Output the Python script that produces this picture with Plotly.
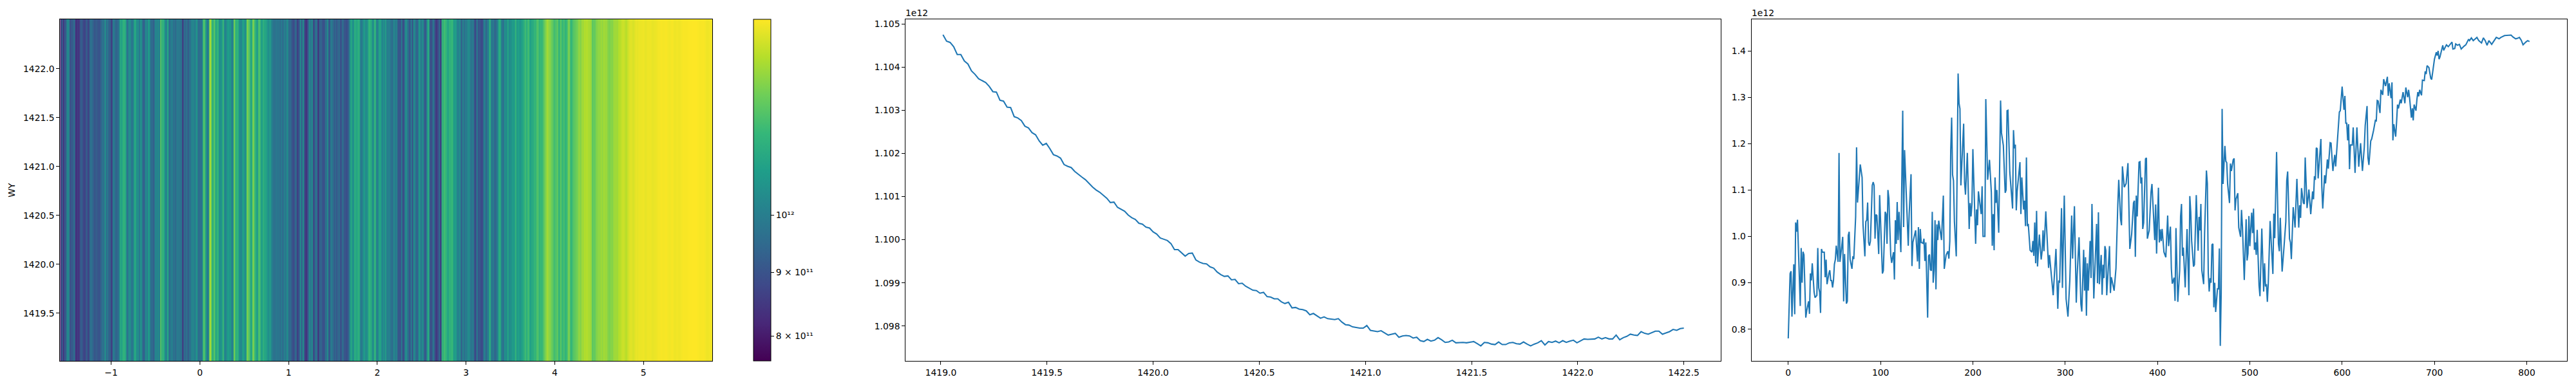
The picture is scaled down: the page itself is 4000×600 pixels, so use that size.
import numpy as np
import plotly.graph_objects as go

# Right panel: spectrum sampled at read turning points (sample index, value in units of 1e12)
sample_index = [0,2,3,4,6,7,8,9,10,12,13,14,15,16,17,19,20,22,23,24,25,26,27,28,29,31,32,33,34,35,36,37,39,40,41,42,44,45,46,47,48,49,50,51,52,54,55,56,58,59,60,61,63,64,65,66,67,69,70,71,73,74,75,78,80,81,83,84,85,86,87,88,89,91,92,93,94,95,96,98,99,101,102,103,104,105,106,107,108,109,111,112,114,115,116,117,118,119,120,122,124,125,126,128,130,131,133,134,135,138,140,141,142,143,144,146,147,148,149,151,152,153,154,155,156,157,158,159,160,161,162,163,166,168,169,171,173,174,175,176,177,178,179,180,182,184,185,186,187,190,191,192,194,196,197,198,199,200,203,204,205,206,209,210,211,213,214,216,218,220,221,222,223,224,225,226,228,230,231,233,235,236,237,238,240,243,244,245,246,247,248,251,252,253,255,256,257,258,259,260,262,264,265,266,267,268,269,270,272,274,275,276,277,279,282,283,285,287,290,292,293,294,296,297,299,301,303,305,307,308,310,312,313,315,317,318,320,321,322,323,324,325,327,328,329,331,334,335,336,337,339,340,341,342,343,344,345,348,349,350,353,355,357,358,360,361,362,364,366,368,370,372,374,375,376,377,378,380,381,382,383,384,385,387,388,389,391,393,394,396,397,398,399,401,402,403,404,405,407,409,411,412,414,415,416,418,419,420,422,424,425,426,427,428,430,432,434,435,436,437,439,440,442,444,445,446,447,448,450,451,453,454,455,456,457,458,459,460,461,462,463,465,466,467,468,469,470,471,473,474,475,476,478,479,480,482,483,484,485,487,488,490,491,492,494,496,497,498,499,500,502,503,504,505,506,507,508,510,511,513,515,516,517,518,519,520,522,525,526,527,529,531,532,533,535,537,539,540,541,543,544,545,547,549,551,553,554,555,556,558,559,560,562,564,566,568,569,570,571,572,573,574,576,577,578,579,581,582,584,585,587,588,590,592,593,595,597,598,600,602,603,604,605,606,607,608,609,611,612,614,616,618,620,622,624,625,627,628,629,631,632,634,636,637,638,639,641,642,644,645,647,649,650,651,653,654,655,656,658,659,660,661,663,664,666,668,669,671,672,673,674,675,676,677,678,680,681,682,683,684,686,687,689,690,691,692,694,696,697,699,700,702,703,704,705,706,708,709,710,713,715,717,719,720,722,723,725,727,729,732,734,736,737,738,740,742,744,746,748,751,753,755,757,759,762,765,767,770,772,776,780,783,785,788,790,792,794,796,799,801,803]
sample_value = [0.78,0.92,0.925,0.827,0.94,0.832,1.03,1.01,1.036,0.9,0.85,0.975,0.9,0.967,0.96,0.825,0.84,0.86,0.833,0.92,0.905,0.942,0.91,0.88,0.868,0.873,0.975,0.889,0.88,0.835,0.973,0.966,0.966,0.912,0.95,0.897,0.92,0.927,0.905,0.905,0.89,0.905,0.94,0.95,0.98,0.945,1.18,0.945,0.98,0.999,0.86,0.962,0.855,0.86,1.002,1.01,0.95,0.93,0.957,0.951,1.042,1.192,1.073,1.155,1.127,1.025,0.957,1.032,1.035,1.073,0.987,0.98,0.99,1.11,1.117,1.11,0.995,1.047,1.045,0.962,1.089,0.98,0.92,0.926,0.98,1.053,1.048,0.984,1.1,1.082,0.96,0.943,0.966,0.907,1.035,0.984,1.074,0.992,1.053,0.966,1.271,1.02,1.186,1.095,0.98,1.048,1.134,0.936,0.987,1.013,0.946,1.02,0.93,1.016,0.987,0.985,0.995,0.947,0.987,0.825,0.958,0.961,0.928,0.926,1.053,0.9,0.928,1.035,0.886,1.026,0.992,1.034,0.992,1.088,0.93,0.96,0.968,0.952,0.99,1.186,1.256,1.133,1.12,1.032,0.957,1.351,1.287,1.275,1.11,1.243,1.117,1.09,1.18,1.016,1.072,1.043,1.07,1.188,0.984,1.058,1.024,1.097,1.048,1.108,1.0,1.0,1.296,1.122,1.165,1.095,0.98,1.048,0.97,1.127,1.072,1.1,1.008,1.293,1.223,1.196,1.094,1.1,1.271,1.272,1.138,1.06,1.229,1.19,1.198,1.056,1.098,1.16,1.048,1.127,1.058,1.077,1.022,1.17,1.022,1.027,0.97,0.966,0.99,0.958,1.03,0.942,1.055,0.935,1.004,0.95,0.968,1.013,0.968,1.054,0.932,0.96,0.912,0.873,0.973,0.844,0.905,0.9,1.061,0.889,1.088,0.865,0.827,0.905,1.045,0.952,1.065,0.857,0.918,0.998,0.854,0.838,0.971,0.883,0.955,0.829,0.942,0.883,0.99,0.91,1.07,0.866,1.027,0.899,1.052,0.897,0.96,0.874,0.939,0.91,0.979,0.97,0.873,0.979,0.878,0.912,0.883,0.931,1.069,1.122,1.037,1.024,1.151,1.106,1.114,1.158,0.973,1.005,1.072,1.077,0.956,1.088,1.043,1.16,1.161,1.114,1.127,1.016,1.029,1.167,1.169,0.995,1.013,1.096,1.113,1.029,0.992,1.069,0.963,1.105,0.987,1.015,0.99,1.016,0.966,0.955,1.045,0.979,1.021,0.931,0.898,0.911,0.861,1.018,0.859,0.926,1.043,1.07,0.958,0.976,0.89,1.016,0.873,1.087,1.053,0.99,0.935,0.939,1.089,0.969,1.042,1.013,1.07,0.927,0.897,1.005,1.142,1.114,0.921,0.881,0.91,0.9,0.982,0.984,0.847,0.9,0.837,0.888,0.886,0.974,0.764,0.878,1.275,1.113,1.195,1.162,1.159,1.112,1.072,1.157,1.141,1.165,1.168,1.056,1.08,1.093,1.019,0.999,1.057,1.021,0.906,1.037,0.948,0.963,1.044,0.979,1.051,1.007,1.06,0.971,0.987,0.96,1.014,0.894,0.871,1.017,0.881,0.942,0.892,0.897,0.859,0.899,1.033,0.919,1.049,0.996,1.182,0.984,0.968,1.04,0.924,0.976,1.032,1.12,1.14,0.995,0.987,0.951,1.063,1.019,1.124,1.019,1.067,1.04,1.104,1.072,1.07,1.17,1.061,1.101,1.048,1.097,1.08,1.13,1.122,1.191,1.189,1.125,1.175,1.21,1.106,1.06,1.132,1.114,1.166,1.146,1.202,1.201,1.141,1.176,1.151,1.213,1.268,1.271,1.323,1.273,1.303,1.244,1.244,1.207,1.242,1.145,1.197,1.197,1.235,1.137,1.235,1.15,1.201,1.141,1.192,1.239,1.281,1.17,1.154,1.206,1.21,1.228,1.25,1.249,1.293,1.292,1.266,1.316,1.305,1.339,1.324,1.344,1.303,1.33,1.298,1.332,1.207,1.242,1.215,1.247,1.284,1.276,1.295,1.287,1.311,1.287,1.321,1.3,1.316,1.3,1.282,1.256,1.276,1.25,1.284,1.271,1.295,1.311,1.302,1.316,1.304,1.337,1.336,1.356,1.35,1.368,1.364,1.341,1.338,1.367,1.382,1.397,1.39,1.4,1.382,1.387,1.404,1.412,1.401,1.413,1.409,1.414,1.419,1.404,1.405,1.415,1.412,1.414,1.404,1.41,1.413,1.421,1.425,1.422,1.428,1.422,1.426,1.429,1.422,1.417,1.428,1.422,1.412,1.422,1.414,1.424,1.429,1.426,1.429,1.433,1.434,1.434,1.43,1.426,1.427,1.429,1.423,1.413,1.419,1.422,1.42,1.422]

# Middle panel: cross-section values (units of 1e12), evenly spaced along WY
cut_start, cut_stop = 1419.01, 1422.5
cut_value = [1.10475,1.10460,1.10457,1.10447,1.10429,1.10429,1.10414,1.10407,1.10391,1.10383,1.10373,1.10369,1.10364,1.10355,1.10343,1.10342,1.10323,1.10321,1.10307,1.10306,1.10285,1.10282,1.10276,1.10263,1.10259,1.10248,1.10243,1.10229,1.10219,1.10223,1.10211,1.10197,1.10194,1.10189,1.10174,1.10170,1.10167,1.10158,1.10151,1.10145,1.10139,1.10130,1.10122,1.10115,1.10110,1.10103,1.10096,1.10086,1.10087,1.10075,1.10070,1.10066,1.10057,1.10051,1.10047,1.10038,1.10036,1.10029,1.10027,1.10018,1.10013,1.10004,1.10001,1.09998,1.09991,1.09977,1.09977,1.09970,1.09962,1.09968,1.09969,1.09953,1.09948,1.09945,1.09944,1.09937,1.09934,1.09925,1.09919,1.09915,1.09916,1.09907,1.09908,1.09898,1.09899,1.09892,1.09888,1.09883,1.09882,1.09876,1.09878,1.09868,1.09867,1.09863,1.09863,1.09856,1.09852,1.09855,1.09842,1.09843,1.09839,1.09838,1.09835,1.09826,1.09829,1.09824,1.09818,1.09821,1.09817,1.09816,1.09815,1.09817,1.09809,1.09803,1.09802,1.09798,1.09796,1.09795,1.09795,1.09801,1.09790,1.09789,1.09787,1.09789,1.09784,1.09779,1.09781,1.09783,1.09774,1.09777,1.09778,1.09777,1.09772,1.09774,1.09766,1.09764,1.09769,1.09765,1.09767,1.09773,1.09768,1.09762,1.09763,1.09767,1.09761,1.09762,1.09762,1.09761,1.09763,1.09764,1.09759,1.09754,1.09762,1.09761,1.09758,1.09757,1.09763,1.09757,1.09757,1.09761,1.09762,1.09759,1.09758,1.09763,1.09758,1.09754,1.09758,1.09761,1.09766,1.09756,1.09764,1.09762,1.09765,1.09761,1.09766,1.09762,1.09765,1.09767,1.09761,1.09765,1.09770,1.09769,1.09769,1.09770,1.09774,1.09770,1.09773,1.09770,1.09770,1.09779,1.09768,1.09773,1.09776,1.09781,1.09779,1.09778,1.09787,1.09783,1.09781,1.09785,1.09788,1.09788,1.09781,1.09784,1.09787,1.09792,1.09790,1.09794,1.09795]

# Left panel axis values
heat_x_start, heat_x_stop = -1.575, 5.775
heat_y_edges = [1419.0, 1422.52]
cbar_ticks = [8e11, 9e11, 1e12]
cbar_text = ["8 × 10¹¹", "9 × 10¹¹", "10¹²"]

spectrum = np.array(sample_value) * 1e12
cut = np.array(cut_value) * 1e12
cut_x = np.linspace(cut_start, cut_stop, len(cut_value))
heat_x = heat_x_start + np.array(sample_index) * (heat_x_stop - heat_x_start) / 803
logz = np.log10(spectrum)

W, H = 4000, 600
TOP, BOTTOM = 30.0, 561.4
ydom = [1 - BOTTOM / H, 1 - TOP / H]
FONT = dict(family="DejaVu Sans", size=13.9, color="black")
BLUE = "#1f77b4"

axis_style = dict(showline=True, linecolor="black", linewidth=1, mirror=True, ticks="outside",
                  ticklen=4.9, tickwidth=1, tickcolor="black", showgrid=False, zeroline=False,
                  tickfont=FONT)

fig = go.Figure()
fig.add_trace(go.Heatmap(
    x=heat_x, y=heat_y_edges, z=[logz, logz], colorscale="Viridis", zsmooth="best",
    zmin=float(logz.min()), zmax=float(logz.max()), xaxis="x", yaxis="y",
    colorbar=dict(x=1169.6 / W, xanchor="left", xref="paper", xpad=0, ypad=0,
                  y=ydom[0], yanchor="bottom", yref="paper", len=ydom[1] - ydom[0], lenmode="fraction",
                  thickness=26.8, thicknessmode="pixels", outlinecolor="black", outlinewidth=1,
                  tickmode="array", tickvals=list(np.log10(cbar_ticks)), ticktext=cbar_text,
                  ticks="outside", ticklen=4.9, tickwidth=1, tickcolor="black", tickfont=FONT),
))
fig.add_trace(go.Scatter(x=cut_x, y=cut, mode="lines", line=dict(color=BLUE, width=2.08),
                         xaxis="x2", yaxis="y2", showlegend=False))
fig.add_trace(go.Scatter(x=sample_index, y=spectrum, mode="lines", line=dict(color=BLUE, width=2.08),
                         xaxis="x3", yaxis="y3", showlegend=False))

def dom(a, b):
    return [a / W, b / W]

cut_ticks = [1.098, 1.099, 1.100, 1.101, 1.102, 1.103, 1.104, 1.105]
fig.update_layout(
    width=W, height=H, autosize=False, margin=dict(l=0, r=0, t=0, b=0),
    paper_bgcolor="white", plot_bgcolor="white", font=FONT, showlegend=False,
    xaxis=dict(domain=dom(93.3, 1106), range=[heat_x_start, heat_x_stop], anchor="y",
               tickmode="array", tickvals=[-1, 0, 1, 2, 3, 4, 5], **axis_style),
    yaxis=dict(domain=ydom, range=[1419.01, 1422.505], anchor="x",
               tickmode="array", tickvals=[1419.5, 1420, 1420.5, 1421, 1421.5, 1422], tickformat=".1f",
               title=dict(text="WY", font=FONT, standoff=9), **axis_style),
    xaxis2=dict(domain=dom(1406.25, 2672.3), range=[1418.834, 1422.675], anchor="y2",
                tickmode="array", tickvals=[1419, 1419.5, 1420, 1420.5, 1421, 1421.5, 1422, 1422.5],
                tickformat=".1f", **axis_style),
    yaxis2=dict(domain=ydom, range=[1.097185e12, 1.105106e12], anchor="x2",
                tickmode="array", tickvals=[t * 1e12 for t in cut_ticks],
                ticktext=[f"{t:.3f}" for t in cut_ticks], **axis_style),
    xaxis3=dict(domain=dom(2719.6, 3985.6), range=[-39.9, 843.3], anchor="y3",
                tickmode="array", tickvals=list(range(0, 801, 100)), **axis_style),
    yaxis3=dict(domain=ydom, range=[0.731e12, 1.468e12], anchor="x3",
                tickmode="array", tickvals=[t * 1e11 for t in range(8, 15)],
                ticktext=["0.8", "0.9", "1.0", "1.1", "1.2", "1.3", "1.4"], **axis_style),
    annotations=[
        dict(text="1e12", x=1406.25 / W, y=ydom[1], xref="paper", yref="paper", xanchor="left",
             yanchor="bottom", showarrow=False, font=FONT, xshift=-2, yshift=0),
        dict(text="1e12", x=2719.6 / W, y=ydom[1], xref="paper", yref="paper", xanchor="left",
             yanchor="bottom", showarrow=False, font=FONT, xshift=-2, yshift=0),
    ],
)

fig.write_html("out.html", config=dict(displayModeBar=False),
               post_script="document.body.style.margin='0';")
